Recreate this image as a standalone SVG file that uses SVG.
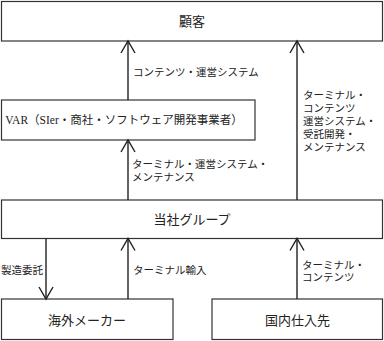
<svg xmlns="http://www.w3.org/2000/svg" width="384" height="341" viewBox="0 0 384 341">
<style>
.box{fill:#fff;stroke:#333;stroke-width:1.2}
.t{font-family:'Liberation Serif','Noto Sans CJK JP',serif;fill:#222}
.title{font-size:13px;text-anchor:middle}
.lbl{font-size:10.5px}
.ln{stroke:#222;stroke-width:1.4;fill:none;marker-end:url(#ah)}
</style>
<defs>
<marker id="ah" markerUnits="userSpaceOnUse" orient="auto" refX="0" refY="0" markerWidth="14" markerHeight="16" overflow="visible">
<path d="M-12,-7 L0,0 L-12,7" fill="none" stroke="#222" stroke-width="1.4"/>
</marker>
</defs>
<rect width="384" height="341" fill="#fff"/>
<g id="customer"><rect class="box" x="1.5" y="1.5" width="381" height="39.5"/><text class="t title" x="192" y="26">顧客</text></g>
<g id="var"><rect class="box" x="1.5" y="100" width="253.5" height="40"/><text class="t" x="124" y="124" font-size="11.5" text-anchor="middle">VAR（SIer・商社・ソフトウェア開発事業者）</text></g>
<g id="group"><rect class="box" x="1.5" y="200" width="381" height="38.5"/><text class="t title" x="192" y="224">当社グループ</text></g>
<g id="overseas"><rect class="box" x="1.5" y="299" width="171.5" height="40.5"/><text class="t title" x="87" y="324.5">海外メーカー</text></g>
<g id="domestic"><rect class="box" x="212" y="299" width="170.5" height="40.5"/><text class="t title" x="297.5" y="324.5">国内仕入先</text></g>
<g id="connectors">
<path class="ln" d="M128,100 V41"/>
<path class="ln" d="M297,200 V41"/>
<path class="ln" d="M128,200 V140"/>
<path class="ln" d="M46,238.5 V299"/>
<path class="ln" d="M128,299 V238.5"/>
<path class="ln" d="M297,299 V238.5"/>
</g>
<g id="labels" class="t lbl">
<text x="133" y="76">コンテンツ・運営システム</text>
<text x="303" y="99">ターミナル・</text>
<text x="303" y="112">コンテンツ</text>
<text x="303" y="125">運営システム・</text>
<text x="303" y="138">受託開発・</text>
<text x="303" y="151">メンテナンス</text>
<text x="132" y="168">ターミナル・運営システム・</text>
<text x="132" y="181">メンテナンス</text>
<text x="1" y="274">製造委託</text>
<text x="133" y="274">ターミナル輸入</text>
<text x="302" y="269">ターミナル・</text>
<text x="302" y="281">コンテンツ</text>
</g>
</svg>
